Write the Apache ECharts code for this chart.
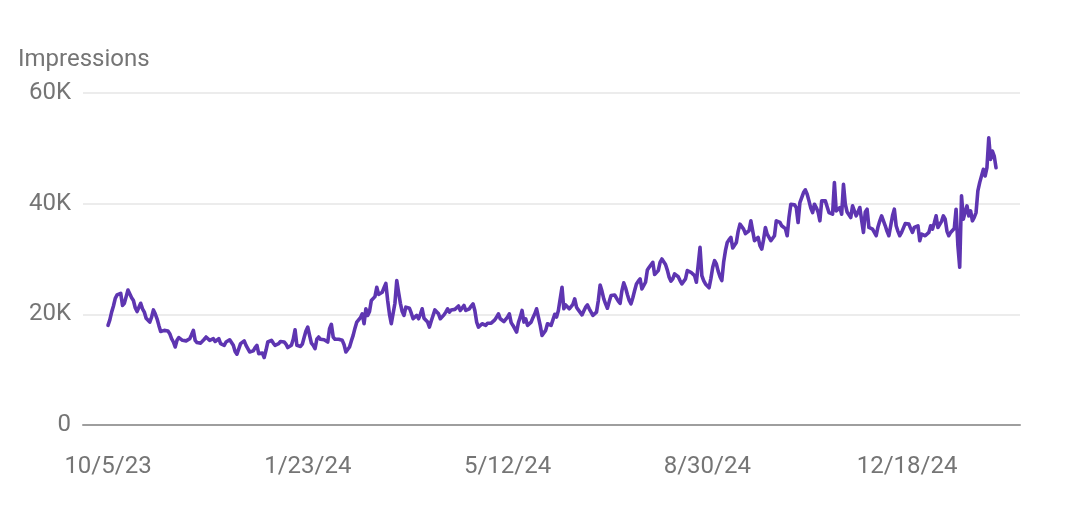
<!DOCTYPE html>
<html>
<head>
<meta charset="utf-8">
<script src="https://cdn.jsdelivr.net/npm/echarts@6.0.0/dist/echarts.min.js"></script>
<style>
  html, body { margin: 0; padding: 0; background: #ffffff; }
  #chart { width: 1066px; height: 514px; }
</style>
</head>
<body>
<div id="chart"></div>
<script>
// Daily impressions (in thousands), one value per day starting 10/5/23
const startDate = '2023-10-05';
const impressionsK = [
  18.0, 19.0, 20.4, 21.5, 22.9, 23.5, 23.8, 23.8, 21.6, 22.0,
  23.2, 24.4, 24.3, 23.0, 22.5, 21.2, 20.5, 20.2, 22.0, 21.0,
  20.4, 19.3, 19.0, 18.6, 19.5, 20.8, 20.1, 19.2, 18.0, 16.9,
  17.0, 17.1, 17.4, 17.0, 16.5, 15.6, 15.0, 14.1, 15.3, 15.8,
  16.0, 15.3, 15.1, 15.2, 15.4, 15.6, 16.3, 17.1, 15.3, 14.9,
  14.6, 14.8, 15.0, 15.5, 15.9, 15.6, 15.3, 15.4, 15.6, 15.1,
  15.3, 15.6, 14.7, 14.5, 14.4, 15.0, 15.3, 15.4, 14.9, 14.4,
  13.3, 12.8, 12.6, 14.7, 15.0, 15.2, 14.4, 13.8, 13.2, 12.9,
  13.4, 14.0, 14.4, 12.9, 13.0, 13.0, 12.2, 13.5, 15.0, 15.2,
  15.3, 14.8, 14.4, 14.6, 14.7, 15.1, 15.4, 15.0, 14.6, 14.0,
  13.8, 14.4, 15.5, 17.2, 14.4, 14.3, 14.2, 14.6, 15.8, 17.0,
  17.7, 16.2, 14.8, 14.4, 13.8, 15.5, 15.9, 15.5, 15.3, 15.4,
  15.1, 15.0, 17.4, 18.2, 15.9, 15.5, 15.3, 15.5, 15.6, 15.3,
  14.5, 13.2, 12.9, 14.1, 15.2, 16.2, 17.5, 18.6, 19.0, 19.4,
  20.1, 18.3, 21.0, 19.8, 20.5, 22.5, 22.8, 23.2, 24.9, 23.6,
  23.8, 24.0, 24.8, 25.6, 22.5, 20.0, 18.3, 18.6, 22.0, 26.1,
  24.0, 22.0, 20.5, 19.8, 21.3, 21.0, 21.1, 20.2, 19.2, 19.5,
  19.8, 19.2, 20.0, 21.0, 19.3, 19.0, 18.6, 17.7, 18.8, 19.8,
  20.8, 21.1, 20.1, 19.2, 18.9, 19.9, 20.4, 21.0, 20.4, 20.8,
  21.1, 20.9, 20.7, 21.5, 20.7, 21.0, 21.6, 20.7, 20.8, 21.0,
  21.5, 21.9, 20.7, 18.6, 17.7, 18.0, 18.3, 18.1, 18.0, 18.4,
  18.6, 18.4, 18.3, 19.0, 19.5, 20.1, 19.2, 19.0, 18.7, 19.1,
  19.5, 20.1, 18.5, 18.0, 17.7, 16.8, 18.5, 19.5, 20.7, 18.6,
  19.2, 18.0, 18.3, 18.6, 19.4, 20.1, 21.0, 19.5, 18.0, 16.2,
  16.5, 17.1, 18.3, 18.1, 18.0, 19.0, 20.0, 19.5, 20.7, 21.0,
  24.9, 21.0, 21.7, 21.5, 21.0, 20.7, 21.8, 22.8, 21.3, 20.8,
  20.5, 19.9, 20.6, 21.3, 21.7, 21.0, 20.4, 19.8, 20.1, 20.4,
  22.5, 25.3, 24.2, 22.8, 21.9, 21.1, 22.3, 23.4, 23.7, 23.5,
  23.3, 22.4, 22.0, 24.3, 25.7, 24.8, 23.6, 22.5, 21.9, 23.0,
  24.3, 25.5, 26.0, 26.4, 24.6, 24.8, 25.8, 28.0, 28.5, 28.6,
  29.4, 27.2, 27.5, 27.9, 29.4, 30.0, 30.3, 29.0, 28.0, 26.7,
  26.0, 26.4, 27.3, 27.6, 26.8, 26.1, 25.5, 25.2, 26.4, 27.9,
  27.7, 27.6, 27.9, 27.0, 25.8, 26.1, 32.1, 27.0, 26.1, 25.5,
  25.2, 24.8, 26.5, 28.5, 29.7, 29.1, 27.8, 26.8, 26.1, 29.4,
  31.5, 33.0, 33.5, 33.9, 32.0, 31.8, 33.0, 35.0, 36.3, 36.3,
  35.4, 34.6, 34.8, 35.1, 36.9, 37.2, 33.3, 33.6, 33.9, 32.4,
  31.8, 33.5, 35.7, 34.5, 33.9, 33.3, 33.6, 34.2, 36.9, 36.7,
  36.6, 36.0, 36.3, 35.5, 34.2, 37.5, 39.9, 40.2, 39.8, 39.3,
  36.6, 40.2, 40.5, 42.0, 42.5, 41.7, 40.5, 39.2, 38.4, 39.9,
  39.3, 38.5, 36.9, 40.5, 40.2, 40.5, 40.8, 38.4, 38.2, 38.1,
  43.8, 38.7, 39.0, 39.3, 38.1, 43.5, 39.9, 38.5, 38.0, 37.5,
  39.6, 39.3, 37.8, 38.5, 39.3, 37.0, 34.8, 38.5, 39.0, 35.7,
  35.5, 35.4, 34.8, 34.2, 35.8, 36.9, 37.8, 37.5, 36.0, 35.0,
  34.2, 36.0, 37.8, 39.0, 36.0, 35.0, 34.2, 34.8, 35.1, 36.4,
  36.5, 36.3, 35.5, 34.8, 35.7, 35.9, 36.0, 33.3, 34.5, 34.8,
  34.2, 34.5, 34.8, 36.0, 35.4, 36.5, 37.8, 35.7, 35.4, 36.8,
  37.8, 37.2, 35.0, 34.2, 34.8, 35.0, 35.5, 39.0, 32.4, 28.5,
  41.4, 37.2, 38.5, 39.6, 37.8, 38.7, 36.9, 37.5, 38.4, 42.3,
  43.8, 44.1, 46.2, 45.0, 46.5, 51.9, 48.0, 49.5, 48.6, 46.5
];

// X tick positions (day offsets from startDate) and their labels
const xTickDays = [0, 110, 220, 330, 440];
const xTickLabels = ['10/5/23', '1/23/24', '5/12/24', '8/30/24', '12/18/24'];

// Y ticks
const yTickValues = [0, 20000, 40000, 60000];
const yTickLabels = ['0', '20K', '40K', '60K'];

const yAxisTitle = 'Impressions';

const seriesData = impressionsK.map((v, i) => [i, Math.round(v * 1000)]);

const chart = echarts.init(document.getElementById('chart'), null, { renderer: 'canvas' });

const gray = '#757575';
const option = {
  animation: false,
  backgroundColor: '#ffffff',
  textStyle: { fontFamily: 'Roboto' },
  title: {
    text: yAxisTitle,
    left: 18,
    top: 48,
    padding: 0,
    textStyle: { fontFamily: 'Roboto', fontSize: 24, fontWeight: 'normal', color: gray }
  },
  grid: { left: 83, right: 46, top: 93, bottom: 89, containLabel: false },
  xAxis: {
    type: 'value',
    min: -13.77,
    max: 502.2,
    axisLine: { show: true, onZero: false, lineStyle: { color: '#9e9e9e', width: 2 } },
    axisTick: { show: false },
    splitLine: { show: false },
    axisLabel: {
      customValues: xTickDays,
      formatter: function (v) {
        const idx = xTickDays.indexOf(Math.round(v));
        return idx >= 0 ? xTickLabels[idx] : '';
      },
      margin: 30,
      fontFamily: 'Roboto',
      fontSize: 24,
      color: gray
    }
  },
  yAxis: {
    type: 'value',
    min: 0,
    max: 60000,
    interval: 20000,
    axisLine: { show: false },
    axisTick: { show: false },
    splitLine: { show: true, lineStyle: { color: '#e6e6e6', width: 1.5 } },
    axisLabel: {
      margin: 12,
      fontFamily: 'Roboto',
      fontSize: 24,
      color: gray,
      formatter: function (v) {
        const idx = yTickValues.indexOf(v);
        return idx >= 0 ? yTickLabels[idx] : '';
      }
    }
  },
  series: [{
    type: 'line',
    name: yAxisTitle,
    data: seriesData,
    showSymbol: false,
    symbol: 'none',
    lineStyle: { color: '#5e35b1', width: 3.6, join: 'round', cap: 'round' },
    itemStyle: { color: '#5e35b1' }
  }]
};
chart.setOption(option);
</script>
</body>
</html>
